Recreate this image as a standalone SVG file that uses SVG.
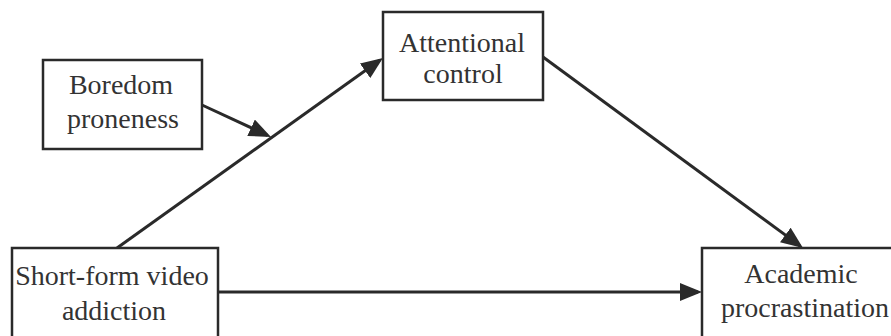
<svg xmlns="http://www.w3.org/2000/svg" width="891" height="336" viewBox="0 0 891 336">
<style>
.box{fill:#fff;stroke:#2a2a2a;stroke-width:2.5}
.lbl{font-family:"Liberation Serif","Times New Roman",serif;font-size:28px;fill:#333;text-anchor:middle}
.conn{stroke:#2a2a2a;stroke-width:3;fill:none}
</style>
<defs>
<marker id="ah" markerUnits="userSpaceOnUse" markerWidth="22" markerHeight="18" refX="18" refY="9" orient="auto">
<path d="M0,0 L22,9 L0,18 z" fill="#2a2a2a"/>
</marker>
</defs>
<rect width="891" height="336" fill="#fff"/>
<g id="connectors">
<line class="conn" x1="117" y1="248" x2="379.7" y2="60.3" marker-end="url(#ah)"/>
<line class="conn" x1="202" y1="105" x2="267.4" y2="135.3" marker-end="url(#ah)"/>
<line class="conn" x1="543" y1="57" x2="799.8" y2="245.6" marker-end="url(#ah)"/>
<line class="conn" x1="218" y1="292" x2="698" y2="292" marker-end="url(#ah)"/>
</g>
<g id="boredom">
<rect class="box" x="43" y="60" width="159" height="89"/>
<text class="lbl" x="121" y="94">Boredom</text>
<text class="lbl" x="123" y="128">proneness</text>
</g>
<g id="attentional">
<rect class="box" x="383" y="12" width="160" height="88"/>
<text class="lbl" x="462" y="52">Attentional</text>
<text class="lbl" x="463" y="83">control</text>
</g>
<g id="shortform">
<rect class="box" x="12" y="248" width="206" height="100"/>
<text class="lbl" x="112" y="285">Short-form video</text>
<text class="lbl" x="114" y="320">addiction</text>
</g>
<g id="academic">
<rect class="box" x="702" y="248" width="210" height="100"/>
<text class="lbl" x="801" y="283">Academic</text>
<text class="lbl" x="805" y="317">procrastination</text>
</g>
</svg>
